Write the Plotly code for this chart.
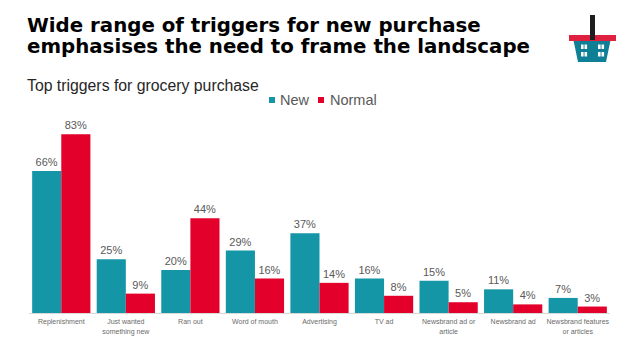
import plotly.graph_objects as go

categories = ["Replenishment", "Just wanted<br>something new", "Ran out", "Word of mouth", "Advertising",
              "TV ad", "Newsbrand ad or<br>article", "Newsbrand ad", "Newsbrand features<br>or articles"]
new_values = [66, 25, 20, 29, 37, 16, 15, 11, 7]
normal_values = [83, 9, 44, 16, 14, 8, 5, 4, 3]
title_lines = ["Wide range of triggers for new purchase", "emphasises the need to frame the landscape"]
subtitle_text = "Top triggers for grocery purchase"

W, H = 638, 359
ML, MR, MT, MB = 29, 28, 116, 46
TEAL, RED = "#1496A6", "#E3002B"
GREY = "#595959"

fig = go.Figure()
for name, vals, col in [("New", new_values, TEAL), ("Normal", normal_values, RED)]:
    fig.add_trace(go.Bar(name=name, x=categories, y=vals, marker=dict(color=col, line_width=0),
                         text=[f"{v}%" for v in vals], textposition="outside", cliponaxis=False,
                         textfont=dict(family="Liberation Sans", size=11, color=GREY)))

def px(x): return (x - ML) / (W - ML - MR)
def py(y): return 1 - (y - MT) / (H - MT - MB)
def rect(x0, x1, y0, y1, col):
    return dict(type="rect", xref="paper", yref="paper", x0=px(x0), x1=px(x1), y0=py(y0), y1=py(y1),
                fillcolor=col, line_width=0)

shapes = [
    dict(type="path", path=f"M {px(573)} {py(38)} L {px(611)} {py(38)} L {px(606)} {py(62)} L {px(578)} {py(62)} Z",
         xref="paper", yref="paper", fillcolor="#0F7F96", line_width=0),
    rect(569, 616, 35, 41, "#E0203F"),
    rect(590, 595, 15, 40, "#1E1E1E"),
    rect(269, 275, 97, 103, TEAL),
    rect(318, 324, 97, 103, RED),
]
for cx in (581, 584.5, 598, 601.5):
    for cy in (44.5, 52):
        shapes.append(rect(cx, cx + 2.6, cy, cy + 4.5, "#FFFFFF"))

annotations = [
    dict(text=line, xref="paper", yref="paper", x=px(26), y=py(yy), xanchor="left", yanchor="middle",
         align="left", showarrow=False, xshift=-1,
         font=dict(family="DejaVu Sans", size=19.8, color="black", weight="bold"))
    for line, yy in zip(title_lines, (26, 46))
]
annotations.append(dict(text=subtitle_text, xref="paper", yref="paper", x=px(26), y=py(85), xanchor="left", yanchor="middle",
                        align="left", showarrow=False, xshift=-1,
                        font=dict(family="Liberation Sans", size=15.8, color="#262626")))
for name, x in [("New", 279), ("Normal", 329)]:
    annotations.append(dict(text=name, xref="paper", yref="paper", x=px(x), y=py(100), xanchor="left", yanchor="middle",
                            showarrow=False, xshift=-1, font=dict(family="Liberation Sans", size=14.5, color=GREY)))

fig.update_layout(
    width=W, height=H, autosize=False,
    margin=dict(l=ML, r=MR, t=MT, b=MB, autoexpand=False),
    paper_bgcolor="white", plot_bgcolor="white",
    barmode="group", bargap=0.098, bargroupgap=0,
    font=dict(family="Liberation Sans", color=GREY),
    showlegend=False,
    xaxis=dict(showgrid=False, zeroline=False, showline=True, linecolor="#D9D9D9", linewidth=1,
               ticks="", tickangle=0, automargin=False, ticklabelstandoff=2,
               tickfont=dict(family="Liberation Sans", size=7, color="#6A6A6A")),
    yaxis=dict(visible=False, range=[0, 91.5], fixedrange=True, automargin=False),
    shapes=shapes,
    annotations=annotations,
)
fig.write_html("out.html", config={"displayModeBar": False}, post_script="document.body.style.margin='0';")
